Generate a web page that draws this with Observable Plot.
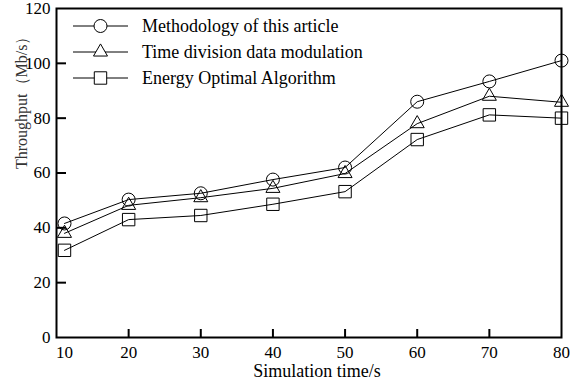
<!DOCTYPE html>
<html><head><meta charset="utf-8">
<script src="https://cdn.jsdelivr.net/npm/d3@7"></script>
<script src="https://cdn.jsdelivr.net/npm/@observablehq/plot@0.6"></script>
<style>
body{margin:0;background:#fff}
#chart svg{font-family:"Liberation Serif","Times New Roman",serif}
</style>
</head><body><div id="chart"></div>
<script>
// ---- data ----
const times = [10, 20, 30, 40, 50, 60, 70, 80];
const seriesNames = ["Methodology of this article", "Time division data modulation", "Energy Optimal Algorithm"];
const methodology = [41.6, 50.3, 52.6, 57.6, 62.0, 86.0, 93.4, 101.0];
const timeDivision = [38.0, 48.2, 51.0, 54.4, 59.8, 78.0, 88.0, 85.8];
const energyOptimal = [31.8, 43.0, 44.5, 48.6, 53.2, 72.2, 81.2, 80.0];
const xTickLabels = [10, 20, 30, 40, 50, 60, 70, 80];
const yTickLabels = [0, 20, 40, 60, 80, 100, 120];
const xTitle = "Simulation time/s";
const yTitle = "Throughput（Mb/s）";

const seriesValues = [methodology, timeDivision, energyOptimal];
const symbolNames = ["circle", "triangle", "square"];
const symbolR = [6.5, 5.2, 7];
const d3Symbols = [d3.symbolCircle, d3.symbolTriangle, d3.symbolSquare];

const rows = [];
seriesValues.forEach((vals, s) => vals.forEach((v, i) => rows.push({series: seriesNames[s], time: times[i], value: v})));

// the reference axis keeps its first category slightly inside the frame
const firstGapInset = 8;
const firstStep = 1 / (times.length - 1);
function xInterpolate(a, b) {
  const lo = a + firstGapInset, mid = a + (b - a) * firstStep;
  return t => t <= firstStep ? lo + (t / firstStep) * (mid - lo) : a + t * (b - a);
}

function legend(index, scales, values, dims) {
  const g = d3.create("svg:g").attr("font-size", 18).attr("fill", "#000").attr("text-anchor", "start");
  seriesNames.forEach((name, i) => {
    const y = dims.marginTop + 18 + i * 26;
    const x0 = dims.marginLeft + 17, x1 = dims.marginLeft + 72, xm = (x0 + x1) / 2;
    g.append("line").attr("x1", x0).attr("x2", x1).attr("y1", y).attr("y2", y).attr("stroke", "#000").attr("stroke-width", 1);
    g.append("path").attr("transform", `translate(${xm},${y})`)
      .attr("d", d3.symbol(d3Symbols[i], Math.PI * symbolR[i] * symbolR[i])())
      .attr("fill", "#fff").attr("stroke", "#000").attr("stroke-width", 1);
    g.append("text").attr("x", dims.marginLeft + 86).attr("y", y).attr("dy", "0.32em").text(name);
  });
  return g.node();
}

const chart = Plot.plot({
  width: 576,
  height: 380,
  marginTop: 8,
  marginBottom: 43,
  marginLeft: 56,
  marginRight: 15,
  style: {fontFamily: "Liberation Serif, serif", fontSize: "17px", color: "#000", background: "#fff", overflow: "visible"},
  x: {domain: [10, 80], interpolate: xInterpolate, label: null},
  y: {domain: [0, 120], label: null},
  marks: [
    Plot.line(rows, {x: "time", y: "value", z: "series", stroke: "#000", strokeWidth: 1}),
    ...seriesNames.map((name, s) =>
      Plot.dot(rows.filter(d => d.series === name), {x: "time", y: "value", symbol: symbolNames[s], r: symbolR[s], stroke: "#000", fill: "none", strokeWidth: 1})
    ),
    Plot.axisX({ticks: xTickLabels.slice(1, -1), tickSize: -8, strokeWidth: 2, tickFormat: () => "", label: null}),
    Plot.axisX({ticks: xTickLabels, tickSize: 0, tickPadding: 8, fontSize: 17, label: null}),
    Plot.axisY({ticks: yTickLabels.slice(1, -1), tickSize: -10, strokeWidth: 2, tickFormat: () => "", label: null}),
    Plot.axisY({ticks: yTickLabels, tickSize: 0, tickPadding: 6, fontSize: 17, label: null}),
    Plot.frame({stroke: "#000", strokeWidth: 2}),
    Plot.text([yTitle], {frameAnchor: "left", rotate: -90, dx: -35, dy: -4, fontSize: 16, fill: "#333"}),
    Plot.text([xTitle], {frameAnchor: "bottom", dy: 39, dx: 8, fontSize: 18}),
    legend
  ]
});
document.getElementById("chart").appendChild(chart);
</script>
</body></html>
